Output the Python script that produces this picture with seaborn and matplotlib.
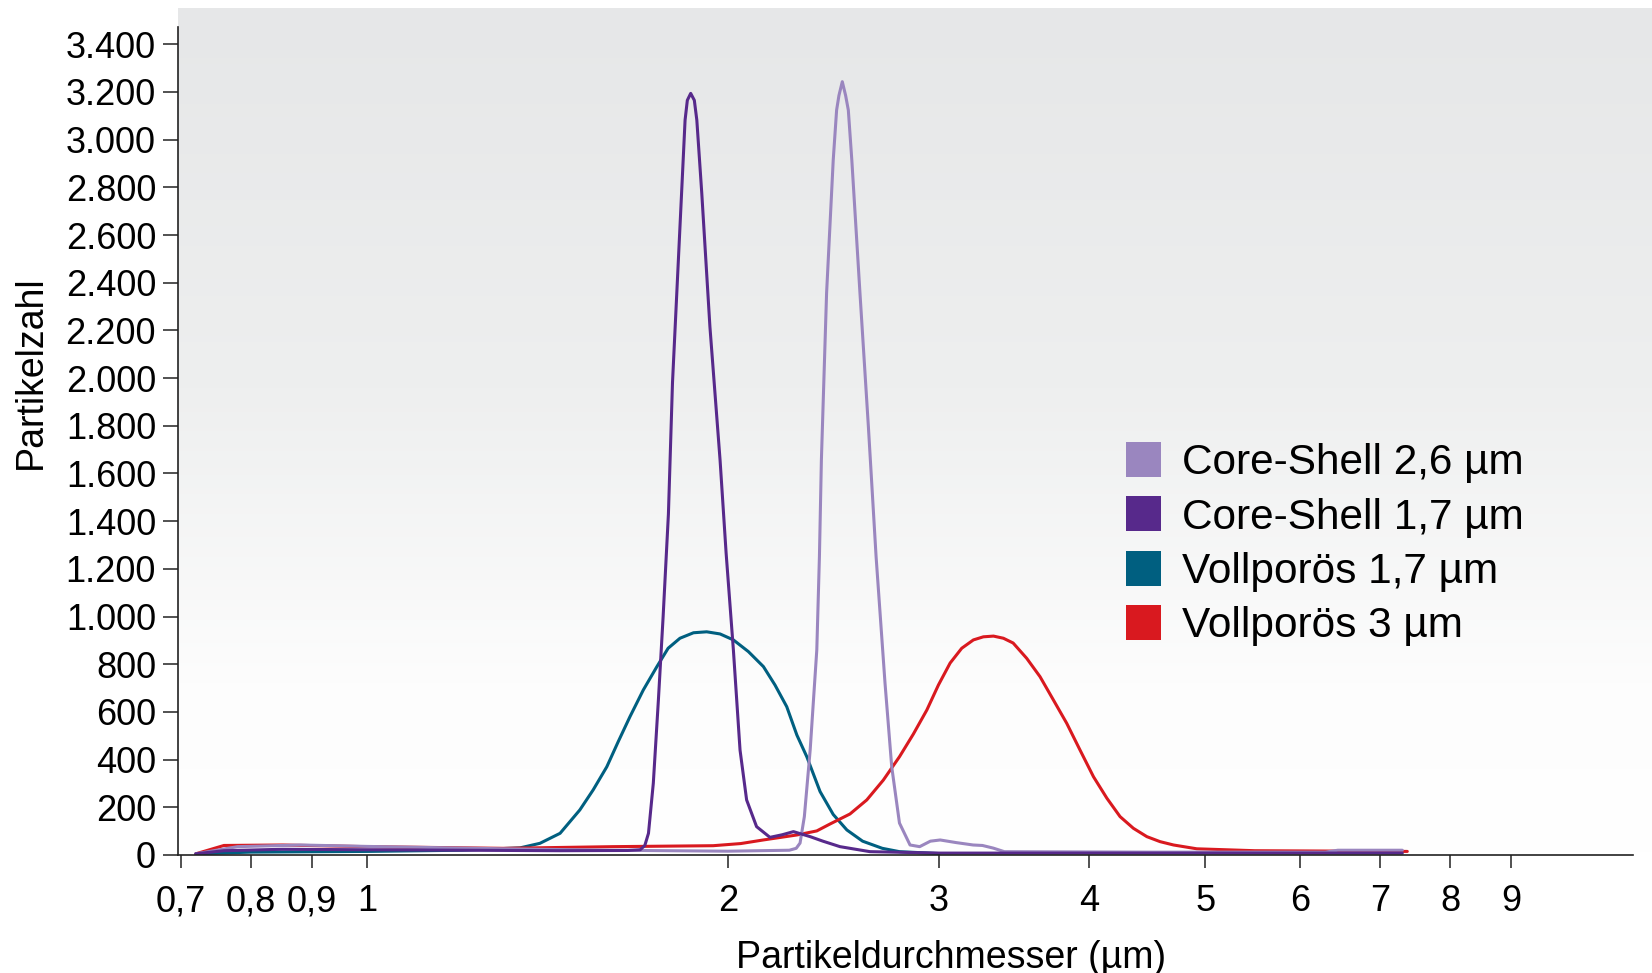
import numpy as np
import pandas as pd
import seaborn as sns
import matplotlib.pyplot as plt
from matplotlib.colors import LinearSegmentedColormap
from matplotlib.patches import Patch
from matplotlib.ticker import FixedLocator, FixedFormatter, FuncFormatter, NullLocator

# Core-Shell 2,6 µm
cs26_x = [0.72, 0.78, 0.88, 1.0, 1.3, 1.6, 2.0, 2.25, 2.28, 2.297, 2.316, 2.342, 2.372, 2.384,
          2.393, 2.417, 2.448, 2.464, 2.475, 2.491, 2.507, 2.520, 2.537, 2.577, 2.619, 2.658,
          2.704, 2.739, 2.78, 2.837, 2.89, 2.95, 3.006, 3.10, 3.202, 3.26, 3.328, 3.40, 4.5,
          6.3, 6.45, 7.3]
cs26_y = [5, 35, 42, 36, 26, 20, 16, 20, 28, 50, 161, 440, 860, 1251,
          1656, 2356, 2914, 3124, 3185, 3243, 3185, 3124, 2914, 2356, 1796, 1251,
          720, 370, 134, 42, 35, 58, 63, 52, 42, 40, 29, 14, 12,
          12, 20, 20]

# Core-Shell 1,7 µm
cs17_x = [0.72, 0.76, 0.85, 1.0, 1.2, 1.45, 1.65, 1.69, 1.705, 1.717, 1.733, 1.750, 1.766, 1.784,
          1.798, 1.824, 1.842, 1.850, 1.862, 1.875, 1.884, 1.902, 1.932, 1.970, 1.993, 2.021,
          2.047, 2.073, 2.113, 2.168, 2.22, 2.268, 2.342, 2.40, 2.48, 2.627, 3.0, 4.0, 5.5, 7.3]
cs17_y = [5, 18, 24, 22, 20, 18, 19, 22, 40, 91, 301, 650, 1000, 1430,
          1980, 2634, 3082, 3165, 3194, 3165, 3082, 2775, 2215, 1656, 1266, 860,
          440, 231, 119, 74, 85, 98, 77, 58, 35, 14, 8, 8, 8, 8]

# Vollporös 1,7 µm
vp17_x = [0.72, 0.8, 1.0, 1.2, 1.342, 1.394, 1.449, 1.505, 1.544, 1.585, 1.620, 1.657, 1.700,
          1.745, 1.783, 1.824, 1.872, 1.920, 1.970, 2.021, 2.080, 2.141, 2.189, 2.239, 2.283,
          2.327, 2.387, 2.448, 2.513, 2.59, 2.69, 2.78, 3.0]
vp17_y = [5, 12, 15, 20, 30, 49, 91, 189, 273, 370, 475, 580, 692,
          790, 867, 909, 932, 936, 927, 902, 853, 790, 713, 622, 503,
          412, 266, 170, 105, 58, 28, 14, 6]

# Vollporös 3 µm
vp3_x = [0.72, 0.76, 0.85, 1.0, 1.3, 1.604, 1.944, 2.05, 2.140, 2.283, 2.372, 2.433, 2.528,
         2.611, 2.695, 2.78, 2.855, 2.930, 2.996, 3.064, 3.133, 3.204, 3.266, 3.330, 3.394,
         3.458, 3.549, 3.641, 3.736, 3.833, 3.932, 4.035, 4.140, 4.246, 4.356, 4.470, 4.585,
         4.705, 4.920, 5.5, 7.37]
vp3_y = [5, 40, 42, 35, 28, 35, 39, 48, 63, 84, 101, 130, 172,
         231, 314, 412, 507, 608, 713, 805, 867, 902, 915, 918, 909,
         889, 825, 748, 650, 552, 440, 328, 238, 161, 112, 77, 56,
         42, 26, 18, 15]

labels = ["Core-Shell 2,6 µm", "Core-Shell 1,7 µm", "Vollporös 1,7 µm", "Vollporös 3 µm"]
colors = ["#9a86bf", "#57298b", "#005f80", "#d9191f"]

x_ticks = [0.7, 0.8, 0.9, 1, 2, 3, 4, 5, 6, 7, 8, 9]
x_ticklabels = ["0,7", "0,8", "0,9", "1", "2", "3", "4", "5", "6", "7", "8", "9"]
y_ticks = list(range(0, 3401, 200))

sns.set_style("ticks")
plt.rcParams["font.family"] = ["Liberation Sans", "DejaVu Sans"]
plt.rcParams["text.color"] = "black"
plt.rcParams["axes.labelcolor"] = "black"

fig = plt.figure(figsize=(16.52, 9.73), dpi=100)
W, H = 1652, 973
left, right, top, bottom = 178, 1652, 8, 855
rect = [left / W, 1 - bottom / H, (right - left) / W, (bottom - top) / H]

# grey-to-white background
bg = fig.add_axes(rect, zorder=0)
grad = np.linspace(0, 1, 256).reshape(-1, 1)
cmap = LinearSegmentedColormap.from_list(
    "g", [(0, "#e6e7e8"), (0.45, "#eeefef"), (0.8, "#fdfdfd"), (1, "#ffffff")])
bg.imshow(grad, cmap=cmap, aspect="auto", extent=[0, 1, 0, 1])
bg.set_axis_off()

ax = fig.add_axes(rect, zorder=1)
ax.patch.set_alpha(0)

series = [(cs26_x, cs26_y), (cs17_x, cs17_y), (vp17_x, vp17_y), (vp3_x, vp3_y)]
draw_order = [2, 3, 0, 1]
for i in draw_order:
    df = pd.DataFrame({"x": series[i][0], "y": series[i][1]})
    sns.lineplot(data=df, x="x", y="y", ax=ax, color=colors[i], linewidth=2.2,
                 sort=False, estimator=None)

ax.set_xscale("log")
ax.set_xlim(0.6958, 11.79)
ax.set_ylim(0, 3552)
ax.spines["top"].set_visible(False)
ax.spines["right"].set_visible(False)
ax.spines["left"].set_bounds(0, 3472)
ax.spines["bottom"].set_bounds(0.6958, 11.37)
for s in ["left", "bottom"]:
    ax.spines[s].set_linewidth(1.2)
    ax.spines[s].set_color("#222222")

ax.xaxis.set_major_locator(FixedLocator(x_ticks))
ax.xaxis.set_major_formatter(FixedFormatter(x_ticklabels))
ax.xaxis.set_minor_locator(NullLocator())
ax.set_yticks(y_ticks)
ax.yaxis.set_major_formatter(FuncFormatter(lambda v, p: f"{v:,.0f}".replace(",", ".")))
ax.tick_params(axis="x", direction="out", length=9.5, width=1.1, pad=11.5, labelsize=26,
               colors="#222222", labelcolor="black")
ax.tick_params(axis="y", direction="out", length=10.8, width=1.1, pad=5, labelsize=26,
               colors="#222222", labelcolor="black")

ax.set_xlabel("Partikeldurchmesser (µm)", fontsize=27)
ax.set_ylabel("Partikelzahl", fontsize=27)
ax.xaxis.set_label_coords(0.5244, -0.1005)
ax.yaxis.set_label_coords(-0.0875, 0.57)

handles = [Patch(facecolor=c, edgecolor="none") for c in colors]
fig.legend(handles, labels, loc="upper left", bbox_to_anchor=(1126 / W, 1 - 442 / H),
           frameon=False, fontsize=30.5, handlelength=0.82, handleheight=0.9,
           handletextpad=0.5, labelspacing=0.31, borderpad=0, borderaxespad=0)

fig.savefig("out.png", dpi=100)
